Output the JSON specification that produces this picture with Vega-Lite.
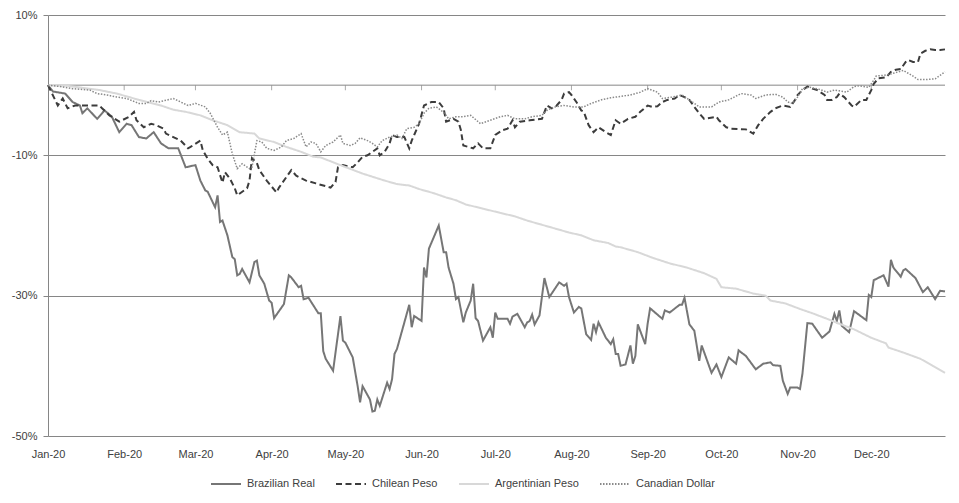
{
"$schema": "https://vega.github.io/schema/vega-lite/v6.json",
"width": 897, "height": 421,
"autosize": {"type": "none"},
"padding": {"left": 48, "top": 15, "right": 14, "bottom": 67},
"background": "white",
"config": {"view": {"stroke": null}, "font": "Liberation Sans",
  "axis": {"labelFont": "Liberation Sans", "labelFontSize": 11, "labelColor": "#404040"},
  "legend": {"labelFont": "Liberation Sans", "labelFontSize": 11, "labelColor": "#404040"}},
"datasets": {
"months": [
{"date":"2020-02-01"},{"date":"2020-03-01"},{"date":"2020-04-01"},{"date":"2020-05-01"},{"date":"2020-06-01"},{"date":"2020-07-01"},{"date":"2020-08-01"},{"date":"2020-09-01"},{"date":"2020-10-01"},{"date":"2020-11-01"},{"date":"2020-12-01"}
],
"brl": [
{"date":"2020-01-01","value":0},{"date":"2020-01-03","value":-0.009},{"date":"2020-01-08","value":-0.012},{"date":"2020-01-11","value":-0.024},{"date":"2020-01-14","value":-0.029},{"date":"2020-01-15","value":-0.040},{"date":"2020-01-17","value":-0.033},{"date":"2020-01-21","value":-0.048},{"date":"2020-01-24","value":-0.036},{"date":"2020-01-27","value":-0.045},{"date":"2020-01-30","value":-0.067},
{"date":"2020-02-02","value":-0.055},{"date":"2020-02-04","value":-0.057},{"date":"2020-02-07","value":-0.074},{"date":"2020-02-10","value":-0.076},{"date":"2020-02-13","value":-0.067},{"date":"2020-02-16","value":-0.083},{"date":"2020-02-19","value":-0.090},{"date":"2020-02-23","value":-0.090},{"date":"2020-02-26","value":-0.117},
{"date":"2020-03-01","value":-0.114},{"date":"2020-03-03","value":-0.136},{"date":"2020-03-05","value":-0.150},{"date":"2020-03-06","value":-0.152},{"date":"2020-03-09","value":-0.174},{"date":"2020-03-10","value":-0.157},{"date":"2020-03-11","value":-0.195},{"date":"2020-03-12","value":-0.193},{"date":"2020-03-14","value":-0.214},{"date":"2020-03-16","value":-0.245},{"date":"2020-03-17","value":-0.248},{"date":"2020-03-18","value":-0.271},{"date":"2020-03-19","value":-0.269},{"date":"2020-03-20","value":-0.262},{"date":"2020-03-23","value":-0.281},{"date":"2020-03-25","value":-0.252},{"date":"2020-03-26","value":-0.250},{"date":"2020-03-27","value":-0.271},{"date":"2020-03-29","value":-0.283},{"date":"2020-03-30","value":-0.295},{"date":"2020-03-31","value":-0.307},
{"date":"2020-04-01","value":-0.310},{"date":"2020-04-02","value":-0.332},{"date":"2020-04-06","value":-0.312},{"date":"2020-04-08","value":-0.271},{"date":"2020-04-09","value":-0.274},{"date":"2020-04-12","value":-0.288},{"date":"2020-04-13","value":-0.286},{"date":"2020-04-14","value":-0.305},{"date":"2020-04-16","value":-0.303},{"date":"2020-04-20","value":-0.325},{"date":"2020-04-21","value":-0.325},{"date":"2020-04-22","value":-0.379},{"date":"2020-04-23","value":-0.390},{"date":"2020-04-26","value":-0.407},{"date":"2020-04-29","value":-0.329},{"date":"2020-04-30","value":-0.364},
{"date":"2020-05-01","value":-0.367},{"date":"2020-05-04","value":-0.388},{"date":"2020-05-06","value":-0.429},{"date":"2020-05-07","value":-0.452},{"date":"2020-05-08","value":-0.429},{"date":"2020-05-11","value":-0.448},{"date":"2020-05-12","value":-0.465},{"date":"2020-05-13","value":-0.464},{"date":"2020-05-14","value":-0.448},{"date":"2020-05-15","value":-0.457},{"date":"2020-05-18","value":-0.424},{"date":"2020-05-19","value":-0.433},{"date":"2020-05-20","value":-0.419},{"date":"2020-05-21","value":-0.383},{"date":"2020-05-22","value":-0.376},{"date":"2020-05-27","value":-0.313},{"date":"2020-05-28","value":-0.345},{"date":"2020-05-29","value":-0.329},
{"date":"2020-06-01","value":-0.336},{"date":"2020-06-02","value":-0.260},{"date":"2020-06-03","value":-0.274},{"date":"2020-06-04","value":-0.233},{"date":"2020-06-08","value":-0.200},{"date":"2020-06-10","value":-0.238},{"date":"2020-06-11","value":-0.238},{"date":"2020-06-12","value":-0.260},{"date":"2020-06-14","value":-0.283},{"date":"2020-06-15","value":-0.305},{"date":"2020-06-16","value":-0.302},{"date":"2020-06-18","value":-0.338},{"date":"2020-06-19","value":-0.324},{"date":"2020-06-21","value":-0.307},{"date":"2020-06-22","value":-0.283},{"date":"2020-06-23","value":-0.332},{"date":"2020-06-24","value":-0.336},{"date":"2020-06-26","value":-0.364},{"date":"2020-06-29","value":-0.345},{"date":"2020-06-30","value":-0.360},
{"date":"2020-07-01","value":-0.324},{"date":"2020-07-02","value":-0.333},{"date":"2020-07-06","value":-0.333},{"date":"2020-07-07","value":-0.340},{"date":"2020-07-08","value":-0.330},{"date":"2020-07-10","value":-0.326},{"date":"2020-07-13","value":-0.345},{"date":"2020-07-14","value":-0.338},{"date":"2020-07-15","value":-0.336},{"date":"2020-07-16","value":-0.327},{"date":"2020-07-17","value":-0.341},{"date":"2020-07-19","value":-0.328},{"date":"2020-07-21","value":-0.275},{"date":"2020-07-23","value":-0.302},{"date":"2020-07-27","value":-0.281},{"date":"2020-07-29","value":-0.286},{"date":"2020-07-30","value":-0.283},{"date":"2020-07-31","value":-0.302},
{"date":"2020-08-02","value":-0.324},{"date":"2020-08-04","value":-0.316},{"date":"2020-08-05","value":-0.318},{"date":"2020-08-07","value":-0.355},{"date":"2020-08-09","value":-0.363},{"date":"2020-08-10","value":-0.340},{"date":"2020-08-11","value":-0.352},{"date":"2020-08-12","value":-0.338},{"date":"2020-08-15","value":-0.360},{"date":"2020-08-17","value":-0.369},{"date":"2020-08-18","value":-0.362},{"date":"2020-08-19","value":-0.383},{"date":"2020-08-20","value":-0.383},{"date":"2020-08-21","value":-0.400},{"date":"2020-08-23","value":-0.398},{"date":"2020-08-25","value":-0.371},{"date":"2020-08-26","value":-0.397},{"date":"2020-08-27","value":-0.386},{"date":"2020-08-28","value":-0.341},{"date":"2020-08-31","value":-0.369},
{"date":"2020-09-01","value":-0.340},{"date":"2020-09-02","value":-0.318},{"date":"2020-09-07","value":-0.333},{"date":"2020-09-08","value":-0.321},{"date":"2020-09-10","value":-0.324},{"date":"2020-09-14","value":-0.313},{"date":"2020-09-15","value":-0.313},{"date":"2020-09-16","value":-0.303},{"date":"2020-09-18","value":-0.341},{"date":"2020-09-20","value":-0.350},{"date":"2020-09-22","value":-0.393},{"date":"2020-09-23","value":-0.371},{"date":"2020-09-27","value":-0.410},{"date":"2020-09-29","value":-0.398},
{"date":"2020-10-01","value":-0.416},{"date":"2020-10-04","value":-0.388},{"date":"2020-10-07","value":-0.397},{"date":"2020-10-08","value":-0.378},{"date":"2020-10-11","value":-0.386},{"date":"2020-10-15","value":-0.405},{"date":"2020-10-18","value":-0.397},{"date":"2020-10-21","value":-0.395},{"date":"2020-10-22","value":-0.399},{"date":"2020-10-25","value":-0.400},{"date":"2020-10-26","value":-0.421},{"date":"2020-10-28","value":-0.440},{"date":"2020-10-29","value":-0.431},
{"date":"2020-11-01","value":-0.431},{"date":"2020-11-02","value":-0.433},{"date":"2020-11-03","value":-0.411},{"date":"2020-11-05","value":-0.339},{"date":"2020-11-07","value":-0.340},{"date":"2020-11-11","value":-0.360},{"date":"2020-11-14","value":-0.351},{"date":"2020-11-16","value":-0.326},{"date":"2020-11-17","value":-0.336},{"date":"2020-11-18","value":-0.321},{"date":"2020-11-19","value":-0.343},{"date":"2020-11-22","value":-0.352},{"date":"2020-11-24","value":-0.322},{"date":"2020-11-29","value":-0.335},{"date":"2020-11-30","value":-0.299},
{"date":"2020-12-01","value":-0.302},{"date":"2020-12-02","value":-0.278},{"date":"2020-12-06","value":-0.271},{"date":"2020-12-08","value":-0.287},{"date":"2020-12-09","value":-0.249},{"date":"2020-12-10","value":-0.260},{"date":"2020-12-13","value":-0.273},{"date":"2020-12-14","value":-0.264},{"date":"2020-12-15","value":-0.262},{"date":"2020-12-19","value":-0.275},{"date":"2020-12-22","value":-0.295},{"date":"2020-12-24","value":-0.288},{"date":"2020-12-27","value":-0.305},{"date":"2020-12-29","value":-0.293},{"date":"2020-12-31","value":-0.294}
],
"clp": [
{"date":"2020-01-01","value":0},{"date":"2020-01-05","value":-0.029},{"date":"2020-01-07","value":-0.019},{"date":"2020-01-09","value":-0.033},{"date":"2020-01-12","value":-0.029},{"date":"2020-01-22","value":-0.029},{"date":"2020-01-23","value":-0.033},{"date":"2020-01-26","value":-0.043},{"date":"2020-01-30","value":-0.052},
{"date":"2020-02-03","value":-0.045},{"date":"2020-02-05","value":-0.038},{"date":"2020-02-06","value":-0.050},{"date":"2020-02-09","value":-0.060},{"date":"2020-02-12","value":-0.055},{"date":"2020-02-14","value":-0.057},{"date":"2020-02-17","value":-0.062},{"date":"2020-02-18","value":-0.069},{"date":"2020-02-21","value":-0.074},{"date":"2020-02-24","value":-0.079},{"date":"2020-02-27","value":-0.090},{"date":"2020-02-28","value":-0.088},
{"date":"2020-03-03","value":-0.079},{"date":"2020-03-04","value":-0.093},{"date":"2020-03-06","value":-0.105},{"date":"2020-03-08","value":-0.114},{"date":"2020-03-10","value":-0.117},{"date":"2020-03-12","value":-0.139},{"date":"2020-03-13","value":-0.124},{"date":"2020-03-15","value":-0.133},{"date":"2020-03-17","value":-0.147},{"date":"2020-03-18","value":-0.157},{"date":"2020-03-22","value":-0.147},{"date":"2020-03-23","value":-0.136},{"date":"2020-03-24","value":-0.104},{"date":"2020-03-26","value":-0.111},{"date":"2020-03-27","value":-0.121},{"date":"2020-03-30","value":-0.136},
{"date":"2020-04-03","value":-0.153},{"date":"2020-04-04","value":-0.146},{"date":"2020-04-09","value":-0.121},{"date":"2020-04-11","value":-0.129},{"date":"2020-04-15","value":-0.136},{"date":"2020-04-19","value":-0.140},{"date":"2020-04-25","value":-0.146},{"date":"2020-04-27","value":-0.138},{"date":"2020-04-28","value":-0.117},{"date":"2020-04-30","value":-0.114},
{"date":"2020-05-04","value":-0.117},{"date":"2020-05-06","value":-0.110},{"date":"2020-05-08","value":-0.102},{"date":"2020-05-10","value":-0.100},{"date":"2020-05-12","value":-0.095},{"date":"2020-05-14","value":-0.090},{"date":"2020-05-15","value":-0.100},{"date":"2020-05-17","value":-0.095},{"date":"2020-05-19","value":-0.083},{"date":"2020-05-20","value":-0.071},{"date":"2020-05-22","value":-0.074},{"date":"2020-05-25","value":-0.074},{"date":"2020-05-27","value":-0.090},{"date":"2020-05-28","value":-0.079},{"date":"2020-05-29","value":-0.071},{"date":"2020-05-31","value":-0.055},
{"date":"2020-06-02","value":-0.029},{"date":"2020-06-05","value":-0.024},{"date":"2020-06-08","value":-0.024},{"date":"2020-06-10","value":-0.033},{"date":"2020-06-11","value":-0.052},{"date":"2020-06-14","value":-0.048},{"date":"2020-06-16","value":-0.052},{"date":"2020-06-17","value":-0.064},{"date":"2020-06-18","value":-0.086},{"date":"2020-06-20","value":-0.088},{"date":"2020-06-22","value":-0.090},{"date":"2020-06-24","value":-0.083},{"date":"2020-06-26","value":-0.090},{"date":"2020-06-29","value":-0.090},
{"date":"2020-07-01","value":-0.071},{"date":"2020-07-04","value":-0.064},{"date":"2020-07-06","value":-0.062},{"date":"2020-07-08","value":-0.050},{"date":"2020-07-09","value":-0.060},{"date":"2020-07-11","value":-0.052},{"date":"2020-07-15","value":-0.050},{"date":"2020-07-20","value":-0.048},{"date":"2020-07-22","value":-0.029},{"date":"2020-07-24","value":-0.033},{"date":"2020-07-26","value":-0.029},{"date":"2020-07-28","value":-0.021},{"date":"2020-07-29","value":-0.012},{"date":"2020-07-31","value":-0.010},
{"date":"2020-08-01","value":-0.014},{"date":"2020-08-03","value":-0.024},{"date":"2020-08-05","value":-0.036},{"date":"2020-08-06","value":-0.038},{"date":"2020-08-08","value":-0.057},{"date":"2020-08-10","value":-0.067},{"date":"2020-08-12","value":-0.060},{"date":"2020-08-15","value":-0.067},{"date":"2020-08-17","value":-0.071},{"date":"2020-08-19","value":-0.050},{"date":"2020-08-21","value":-0.055},{"date":"2020-08-24","value":-0.048},{"date":"2020-08-27","value":-0.045},{"date":"2020-08-29","value":-0.038},
{"date":"2020-09-01","value":-0.029},{"date":"2020-09-03","value":-0.031},{"date":"2020-09-05","value":-0.030},{"date":"2020-09-07","value":-0.024},{"date":"2020-09-09","value":-0.021},{"date":"2020-09-12","value":-0.019},{"date":"2020-09-14","value":-0.014},{"date":"2020-09-16","value":-0.017},{"date":"2020-09-18","value":-0.021},{"date":"2020-09-20","value":-0.031},{"date":"2020-09-22","value":-0.040},{"date":"2020-09-24","value":-0.048},{"date":"2020-09-29","value":-0.045},{"date":"2020-09-30","value":-0.050},
{"date":"2020-10-03","value":-0.060},{"date":"2020-10-05","value":-0.062},{"date":"2020-10-11","value":-0.063},{"date":"2020-10-14","value":-0.069},{"date":"2020-10-16","value":-0.057},{"date":"2020-10-18","value":-0.048},{"date":"2020-10-21","value":-0.038},{"date":"2020-10-23","value":-0.033},{"date":"2020-10-26","value":-0.029},{"date":"2020-10-29","value":-0.031},{"date":"2020-10-31","value":-0.021},
{"date":"2020-11-01","value":-0.014},{"date":"2020-11-03","value":-0.007},{"date":"2020-11-05","value":-0.002},{"date":"2020-11-07","value":-0.005},{"date":"2020-11-09","value":-0.007},{"date":"2020-11-12","value":-0.014},{"date":"2020-11-13","value":-0.021},{"date":"2020-11-15","value":-0.021},{"date":"2020-11-17","value":-0.017},{"date":"2020-11-18","value":-0.012},{"date":"2020-11-20","value":-0.017},{"date":"2020-11-23","value":-0.029},{"date":"2020-11-24","value":-0.031},{"date":"2020-11-27","value":-0.021},{"date":"2020-11-29","value":-0.021},
{"date":"2020-12-01","value":-0.007},{"date":"2020-12-02","value":0.002},{"date":"2020-12-04","value":0.010},{"date":"2020-12-07","value":0.011},{"date":"2020-12-09","value":0.019},{"date":"2020-12-11","value":0.022},{"date":"2020-12-13","value":0.023},{"date":"2020-12-15","value":0.033},{"date":"2020-12-16","value":0.036},{"date":"2020-12-18","value":0.033},{"date":"2020-12-20","value":0.033},{"date":"2020-12-21","value":0.045},{"date":"2020-12-23","value":0.049},{"date":"2020-12-25","value":0.051},{"date":"2020-12-27","value":0.050},{"date":"2020-12-29","value":0.050},{"date":"2020-12-31","value":0.051}
],
"ars": [
{"date":"2020-01-01","value":0},{"date":"2020-01-09","value":-0.001},{"date":"2020-01-22","value":-0.007},{"date":"2020-01-29","value":-0.012},{"date":"2020-02-07","value":-0.021},{"date":"2020-02-16","value":-0.029},{"date":"2020-02-21","value":-0.035},{"date":"2020-02-26","value":-0.038},{"date":"2020-03-03","value":-0.043},{"date":"2020-03-08","value":-0.050},{"date":"2020-03-14","value":-0.057},{"date":"2020-03-19","value":-0.067},{"date":"2020-03-25","value":-0.069},{"date":"2020-03-27","value":-0.076},
{"date":"2020-04-02","value":-0.081},{"date":"2020-04-07","value":-0.088},{"date":"2020-04-13","value":-0.095},{"date":"2020-04-18","value":-0.102},{"date":"2020-04-21","value":-0.103},{"date":"2020-04-29","value":-0.114},{"date":"2020-05-08","value":-0.126},{"date":"2020-05-17","value":-0.136},{"date":"2020-05-22","value":-0.141},{"date":"2020-05-27","value":-0.143},{"date":"2020-05-31","value":-0.148},
{"date":"2020-06-06","value":-0.154},{"date":"2020-06-11","value":-0.160},{"date":"2020-06-15","value":-0.164},{"date":"2020-06-19","value":-0.170},{"date":"2020-06-26","value":-0.176},{"date":"2020-07-03","value":-0.182},{"date":"2020-07-09","value":-0.187},{"date":"2020-07-14","value":-0.193},{"date":"2020-07-20","value":-0.199},{"date":"2020-07-25","value":-0.204},{"date":"2020-07-31","value":-0.210},
{"date":"2020-08-05","value":-0.214},{"date":"2020-08-10","value":-0.221},{"date":"2020-08-16","value":-0.225},{"date":"2020-08-19","value":-0.230},{"date":"2020-08-21","value":-0.231},{"date":"2020-08-28","value":-0.238},{"date":"2020-09-03","value":-0.246},{"date":"2020-09-10","value":-0.254},{"date":"2020-09-17","value":-0.260},{"date":"2020-09-24","value":-0.268},{"date":"2020-09-29","value":-0.276},
{"date":"2020-10-01","value":-0.288},{"date":"2020-10-07","value":-0.290},{"date":"2020-10-14","value":-0.297},{"date":"2020-10-19","value":-0.300},{"date":"2020-10-21","value":-0.307},{"date":"2020-10-27","value":-0.311},{"date":"2020-11-02","value":-0.319},{"date":"2020-11-07","value":-0.325},{"date":"2020-11-13","value":-0.333},{"date":"2020-11-18","value":-0.340},{"date":"2020-11-24","value":-0.348},
{"date":"2020-12-01","value":-0.360},{"date":"2020-12-07","value":-0.368},{"date":"2020-12-08","value":-0.374},{"date":"2020-12-14","value":-0.381},{"date":"2020-12-21","value":-0.390},{"date":"2020-12-26","value":-0.400},{"date":"2020-12-31","value":-0.410}
],
"cad": [
{"date":"2020-01-01","value":0},{"date":"2020-01-06","value":-0.002},{"date":"2020-01-11","value":-0.005},{"date":"2020-01-18","value":-0.007},{"date":"2020-01-21","value":-0.012},{"date":"2020-01-25","value":-0.014},{"date":"2020-01-29","value":-0.017},
{"date":"2020-02-02","value":-0.019},{"date":"2020-02-07","value":-0.026},{"date":"2020-02-10","value":-0.026},{"date":"2020-02-12","value":-0.022},{"date":"2020-02-15","value":-0.024},{"date":"2020-02-21","value":-0.019},{"date":"2020-02-24","value":-0.024},{"date":"2020-02-27","value":-0.029},
{"date":"2020-03-01","value":-0.026},{"date":"2020-03-05","value":-0.031},{"date":"2020-03-07","value":-0.040},{"date":"2020-03-10","value":-0.060},{"date":"2020-03-12","value":-0.071},{"date":"2020-03-14","value":-0.067},{"date":"2020-03-16","value":-0.098},{"date":"2020-03-18","value":-0.119},{"date":"2020-03-20","value":-0.112},{"date":"2020-03-23","value":-0.119},{"date":"2020-03-24","value":-0.117},{"date":"2020-03-26","value":-0.079},{"date":"2020-03-28","value":-0.081},{"date":"2020-03-30","value":-0.090},
{"date":"2020-04-02","value":-0.093},{"date":"2020-04-05","value":-0.088},{"date":"2020-04-07","value":-0.079},{"date":"2020-04-10","value":-0.076},{"date":"2020-04-13","value":-0.069},{"date":"2020-04-15","value":-0.088},{"date":"2020-04-17","value":-0.081},{"date":"2020-04-19","value":-0.083},{"date":"2020-04-21","value":-0.095},{"date":"2020-04-23","value":-0.086},{"date":"2020-04-26","value":-0.081},{"date":"2020-04-29","value":-0.071},{"date":"2020-04-30","value":-0.083},
{"date":"2020-05-03","value":-0.086},{"date":"2020-05-05","value":-0.083},{"date":"2020-05-07","value":-0.075},{"date":"2020-05-10","value":-0.079},{"date":"2020-05-12","value":-0.083},{"date":"2020-05-14","value":-0.088},{"date":"2020-05-16","value":-0.079},{"date":"2020-05-19","value":-0.074},{"date":"2020-05-22","value":-0.071},{"date":"2020-05-24","value":-0.076},{"date":"2020-05-26","value":-0.062},{"date":"2020-05-29","value":-0.060},{"date":"2020-05-31","value":-0.055},
{"date":"2020-06-02","value":-0.040},{"date":"2020-06-04","value":-0.033},{"date":"2020-06-07","value":-0.031},{"date":"2020-06-09","value":-0.036},{"date":"2020-06-11","value":-0.043},{"date":"2020-06-12","value":-0.048},{"date":"2020-06-15","value":-0.045},{"date":"2020-06-18","value":-0.045},{"date":"2020-06-21","value":-0.043},{"date":"2020-06-25","value":-0.055},{"date":"2020-06-29","value":-0.050},
{"date":"2020-07-03","value":-0.045},{"date":"2020-07-06","value":-0.043},{"date":"2020-07-09","value":-0.048},{"date":"2020-07-13","value":-0.048},{"date":"2020-07-16","value":-0.045},{"date":"2020-07-20","value":-0.043},{"date":"2020-07-22","value":-0.036},{"date":"2020-07-25","value":-0.031},{"date":"2020-07-29","value":-0.029},
{"date":"2020-08-02","value":-0.031},{"date":"2020-08-06","value":-0.031},{"date":"2020-08-09","value":-0.026},{"date":"2020-08-13","value":-0.021},{"date":"2020-08-17","value":-0.018},{"date":"2020-08-21","value":-0.016},{"date":"2020-08-25","value":-0.014},{"date":"2020-08-29","value":-0.010},
{"date":"2020-09-01","value":-0.005},{"date":"2020-09-05","value":-0.010},{"date":"2020-09-07","value":-0.019},{"date":"2020-09-11","value":-0.017},{"date":"2020-09-15","value":-0.014},{"date":"2020-09-18","value":-0.021},{"date":"2020-09-22","value":-0.031},{"date":"2020-09-27","value":-0.031},{"date":"2020-09-30","value":-0.024},
{"date":"2020-10-04","value":-0.021},{"date":"2020-10-09","value":-0.012},{"date":"2020-10-13","value":-0.014},{"date":"2020-10-15","value":-0.019},{"date":"2020-10-19","value":-0.014},{"date":"2020-10-23","value":-0.013},{"date":"2020-10-26","value":-0.017},{"date":"2020-10-28","value":-0.024},{"date":"2020-10-30","value":-0.026},
{"date":"2020-11-01","value":-0.017},{"date":"2020-11-03","value":-0.005},{"date":"2020-11-06","value":-0.003},{"date":"2020-11-10","value":-0.006},{"date":"2020-11-13","value":-0.010},{"date":"2020-11-16","value":-0.007},{"date":"2020-11-18","value":-0.008},{"date":"2020-11-21","value":-0.010},{"date":"2020-11-24","value":-0.002},{"date":"2020-11-26","value":-0.001},{"date":"2020-11-30","value":-0.003},
{"date":"2020-12-02","value":0.007},{"date":"2020-12-03","value":0.013},{"date":"2020-12-06","value":0.014},{"date":"2020-12-09","value":0.016},{"date":"2020-12-11","value":0.018},{"date":"2020-12-14","value":0.021},{"date":"2020-12-16","value":0.017},{"date":"2020-12-18","value":0.013},{"date":"2020-12-20","value":0.008},{"date":"2020-12-23","value":0.008},{"date":"2020-12-27","value":0.009},{"date":"2020-12-29","value":0.014},{"date":"2020-12-31","value":0.019}
]
},
"layer": [
{"data": {"values": [{}]}, "mark": {"type": "rule", "color": "#868686", "strokeWidth": 1},
 "encoding": {"y": {"datum": 0, "type": "quantitative"}}},
{"data": {"name": "months"}, "mark": {"type": "tick", "orient": "vertical", "color": "#868686", "thickness": 1, "size": 5, "yOffset": 2.5},
 "encoding": {"x": {"field": "date", "type": "temporal"}, "y": {"datum": 0, "type": "quantitative"}}},
{"data": {"name": "brl"}, "mark": {"type": "line", "strokeCap": "butt"},
 "encoding": {
  "x": {"field": "date", "type": "temporal",
   "scale": {"type": "utc", "domain": [{"year": 2020, "month": 1, "date": 1, "utc": true}, {"year": 2020, "month": 12, "date": 31, "utc": true}]},
   "axis": {"orient": "bottom", "format": "%b-%y", "tickCount": {"interval": "month", "step": 1}, "ticks": false, "domain": false, "grid": false, "labelPadding": 12, "labelFlush": false, "labelOverlap": false, "title": null}},
  "y": {"field": "value", "type": "quantitative", "scale": {"domain": [-0.5, 0.1], "nice": false, "zero": false},
   "axis": {"values": [-0.5, -0.3, -0.1, 0.1], "format": ".0%", "labelExpr": "replace(datum.label, '\u2212', '-')", "grid": true, "gridColor": "#868686", "gridOpacity": 1, "domainColor": "#868686", "tickColor": "#868686", "tickSize": 5, "labelPadding": 6, "title": null}},
  "color": {"datum": "Brazilian Real", "type": "nominal",
   "scale": {"domain": ["Brazilian Real", "Chilean Peso", "Argentinian Peso", "Canadian Dollar"], "range": ["#767676", "#3c3c3c", "#d8d8d8", "#8a8a8a"]},
   "legend": {"orient": "none", "legendX": 162, "legendY": 453, "direction": "horizontal", "title": null, "symbolType": "stroke", "symbolSize": 900, "symbolStrokeWidth": 2, "columnPadding": 17, "labelOffset": 5}},
  "strokeDash": {"datum": "Brazilian Real", "type": "nominal",
   "scale": {"domain": ["Brazilian Real", "Chilean Peso", "Argentinian Peso", "Canadian Dollar"], "range": [[1, 0], [6, 3.5], [1, 0], [1.5, 1.5]]},
   "legend": {"orient": "none", "legendX": 162, "legendY": 453, "direction": "horizontal", "title": null, "symbolType": "stroke", "symbolSize": 900, "symbolStrokeWidth": 2, "columnPadding": 17, "labelOffset": 5}},
  "strokeWidth": {"value": 2}
 }},
{"data": {"name": "clp"}, "mark": {"type": "line", "strokeCap": "butt"},
 "encoding": {"x": {"field": "date", "type": "temporal"}, "y": {"field": "value", "type": "quantitative"},
  "color": {"datum": "Chilean Peso", "type": "nominal"}, "strokeDash": {"datum": "Chilean Peso", "type": "nominal"}, "strokeWidth": {"value": 2}}},
{"data": {"name": "ars"}, "mark": {"type": "line", "strokeCap": "butt"},
 "encoding": {"x": {"field": "date", "type": "temporal"}, "y": {"field": "value", "type": "quantitative"},
  "color": {"datum": "Argentinian Peso", "type": "nominal"}, "strokeDash": {"datum": "Argentinian Peso", "type": "nominal"}, "strokeWidth": {"value": 2}}},
{"data": {"name": "cad"}, "mark": {"type": "line", "strokeCap": "butt"},
 "encoding": {"x": {"field": "date", "type": "temporal"}, "y": {"field": "value", "type": "quantitative"},
  "color": {"datum": "Canadian Dollar", "type": "nominal"}, "strokeDash": {"datum": "Canadian Dollar", "type": "nominal"}, "strokeWidth": {"value": 1.5}}}
]
}
